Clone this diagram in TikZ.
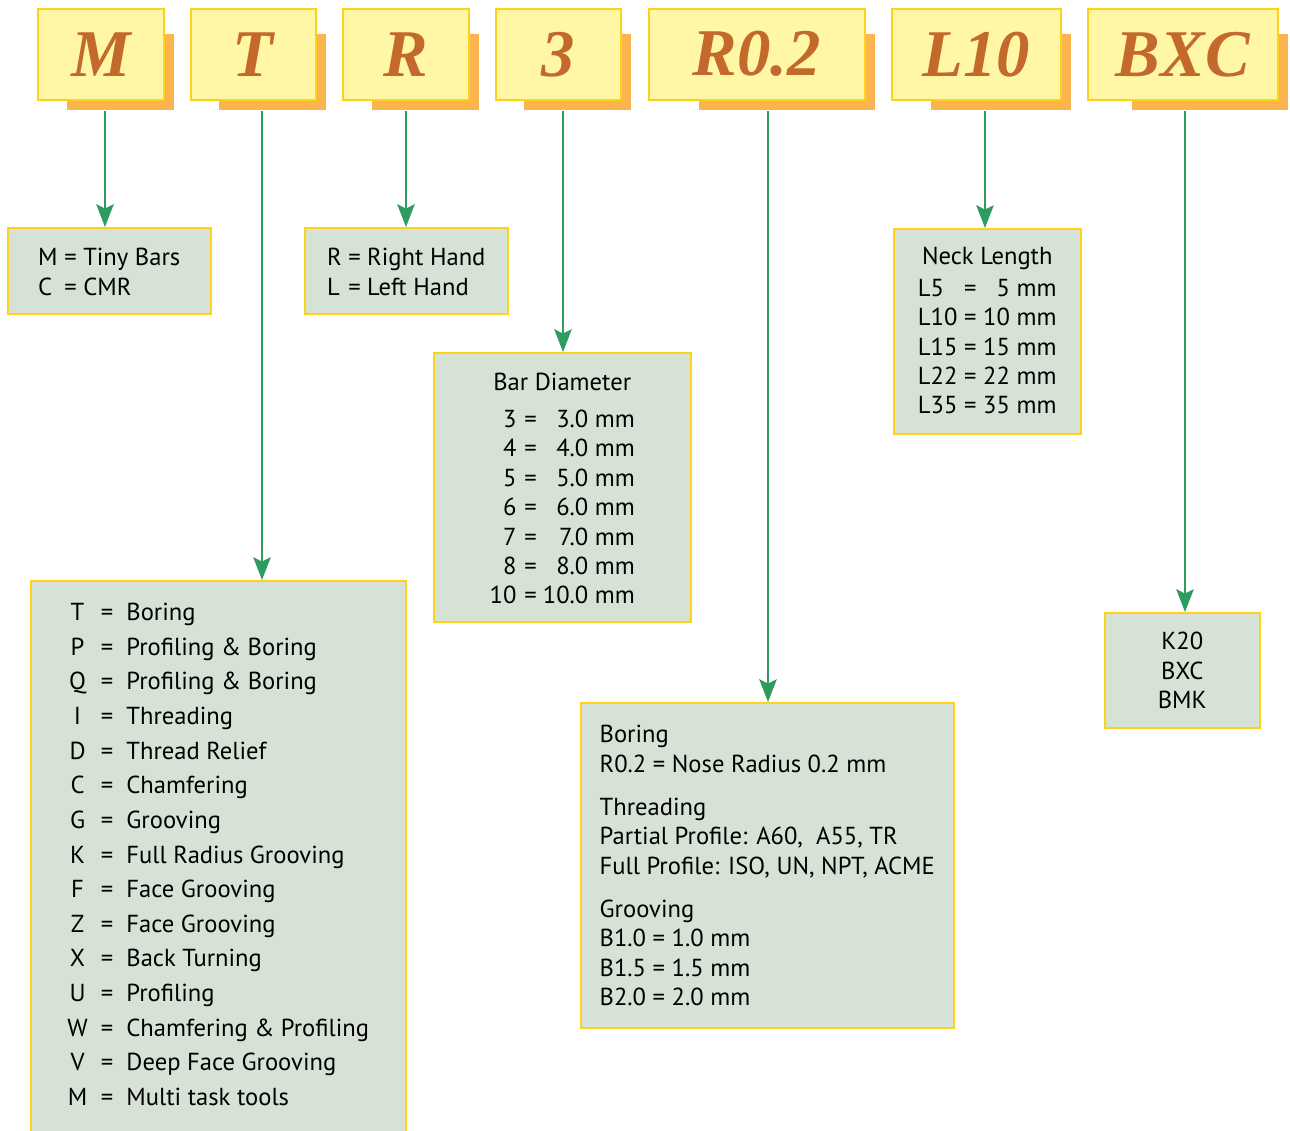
\documentclass[tikz,border=0pt]{standalone}
\usepackage{fontspec}
\setmainfont{PT Sans}
\newfontfamily\letterfont{Liberation Serif}
\usetikzlibrary{arrows.meta}
\newlength\px
\setlength\px{0.02cm}
\definecolor{codefill}{HTML}{FFF6A6}
\definecolor{codetext}{HTML}{C4692C}
\definecolor{boxline}{HTML}{FFD21A}
\definecolor{shadowc}{HTML}{FBB44E}
\definecolor{infofill}{HTML}{D5E2D5}
\definecolor{arrowc}{HTML}{2E9B5F}

\begin{document}
\begin{tikzpicture}[x=0.02cm,y=-0.02cm,
  codebox/.style={draw=boxline,line width=1.5\px,fill=codefill,minimum height=91\px,
    anchor=north west,inner sep=0pt,text=codetext,
    font=\letterfont\bfseries\itshape\fontsize{38}{38}\selectfont},
  infobox/.style={draw=boxline,line width=1.5\px,fill=infofill,anchor=north west,
    inner sep=0pt,font=\fontsize{14}{16.7}\selectfont},
  arr/.style={draw=arrowc,line width=0.85pt,-{Stealth[length=13pt,width=10pt,inset=2.5pt]}}]
\useasboundingbox (0,0) rectangle (1290,1130);

\foreach \x/\w/\t/\n in {37/126/M/cM,190/125/T/cT,342/126/R/cR,495/125/3/cD,
  648/216/R0.2/cN,891/169/L10/cL,1087/190/BXC/cB}{
  \fill[shadowc] (\x+0.235*\w,34) rectangle (\x+\w+11,110);
  \node[codebox,minimum width=\w\px] (\n) at (\x,8) {\t};
}

\node[infobox,minimum width=203\px,text height=38\px,text depth=48\px] (tiny) at (7,227)
  {\begin{tabular}[t]{@{}l@{\ =\ }l@{}}M&Tiny Bars\\C&CMR\end{tabular}};
\node[infobox,minimum width=203\px,text height=38\px,text depth=48\px] (hand) at (304,227)
  {\begin{tabular}[t]{@{}l@{\ =\ }l@{}}R&Right Hand\\L&Left Hand\end{tabular}};
\node[infobox,minimum width=257\px,text height=38\px,text depth=231\px] (dia) at (433,352)
  {\begin{tabular}[t]{@{}r@{\hspace{4.5pt}=\hspace{3.5pt}}r@{}}\multicolumn{2}{c}{\makebox[0pt]{Bar Diameter}}\\[4.3pt]
  3&3.0 mm\\4&4.0 mm\\5&5.0 mm\\6&6.0 mm\\7&7.0 mm\\8&8.0 mm\\10&10.0 mm\end{tabular}};
\node[infobox,minimum width=187\px,text height=36\px,text depth=169\px] (neck) at (893,228)
  {\begin{tabular}[t]{@{}l@{\hspace{3.8pt}=\hspace{3.8pt}}r@{}}\multicolumn{2}{c}{\makebox[0pt]{Neck Length}}\\[1.4pt]
  L5&5 mm\\L10&10 mm\\L15&15 mm\\L22&22 mm\\L35&35 mm\end{tabular}};
\node[infobox,minimum width=375\px,text height=40\px,text depth=520\px,
  font=\fontsize{14}{19.7}\selectfont] (tool) at (30,580)
  {\begin{tabular}[t]{@{}c@{\ \ =\ \ }l@{}}T&Boring\\P&Profiling \& Boring\\
  Q&Profiling \& Boring\\I&Threading\\D&Thread Relief\\C&Chamfering\\G&Grooving\\
  K&Full Radius Grooving\\F&Face Grooving\\Z&Face Grooving\\X&Back Turning\\
  U&Profiling\\W&Chamfering \& Profiling\\V&Deep Face Grooving\\M&Multi task tools\end{tabular}};
\node[infobox,minimum width=373\px,text height=40\px,text depth=285\px] (nose) at (580,702)
  {\begin{tabular}[t]{@{}l@{}}Boring\\R0.2 = Nose Radius 0.2 mm\\[8pt]
  Threading\\Partial Profile: A60,\ \ A55, TR\\Full Profile: ISO, UN, NPT, ACME\\[8pt]
  Grooving\\B1.0 = 1.0 mm\\B1.5 = 1.5 mm\\B2.0 = 2.0 mm\end{tabular}};
\node[infobox,minimum width=155\px,text height=37\px,text depth=78\px] (grade) at (1104,612)
  {\begin{tabular}[t]{@{}c@{}}K20\\BXC\\BMK\end{tabular}};

\coordinate (aM) at (105,111);
\coordinate (aT) at (262,111);
\coordinate (aR) at (406,111);
\coordinate (aD) at (563,111);
\coordinate (aN) at (768,111);
\coordinate (aL) at (985,111);
\coordinate (aB) at (1185,111);

\draw[arr] (aM) -- (aM |- tiny.north);
\draw[arr] (aT) -- (aT |- tool.north);
\draw[arr] (aR) -- (aR |- hand.north);
\draw[arr] (aD) -- (aD |- dia.north);
\draw[arr] (aN) -- (aN |- nose.north);
\draw[arr] (aL) -- (aL |- neck.north);
\draw[arr] (aB) -- (aB |- grade.north);

\end{tikzpicture}
\end{document}
